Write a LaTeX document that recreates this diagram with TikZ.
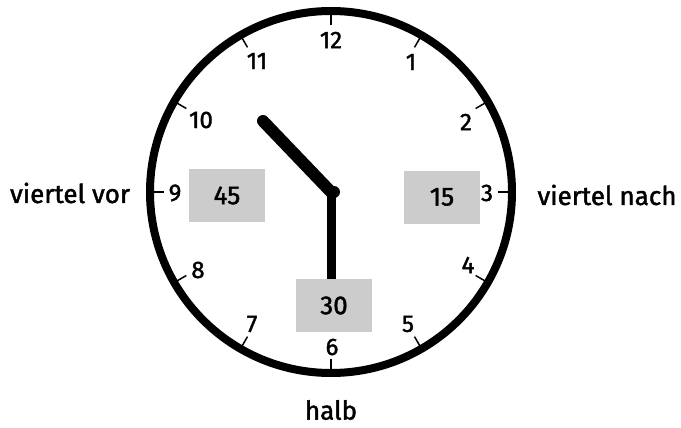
\documentclass[tikz,border=0pt]{standalone}
\usepackage{fontspec}
\setmainfont{Fira Sans}[FakeBold=1.6]
\begin{document}
\begin{tikzpicture}[x=1pt,y=-1pt,
  num/.style={font=\fontsize{24}{26}\selectfont, inner sep=0pt},
  minbox/.style={fill=black!20, minimum width=76pt, minimum height=53pt, inner sep=0pt, font=\fontsize{26}{28}\selectfont},
  lbl/.style={font=\fontsize{26}{28}\selectfont, inner sep=0pt},
  tick/.style={line width=1.5pt}]
\useasboundingbox (0,0) rectangle (681,428);
\coordinate (c) at (331,192);
\draw[line width=8pt] (c) circle[radius=181];
\begin{scope}[shift={(331,192)}]
\foreach \a in {0,30,...,330} \draw[tick] (\a:180) -- (\a:167);
\end{scope}
\node[num] (h12) at (331,40) {12};
\node[num] (h1) at (411,62) {1};
\node[num] (h2) at (466,122) {2};
\node[num] (h3) at (487,193) {3};
\node[num] (h4) at (468,265) {4};
\node[num] (h5) at (408,324) {5};
\node[num] (h6) at (332,347) {6};
\node[num] (h7) at (252,324) {7};
\node[num] (h8) at (198,270) {8};
\node[num] (h9) at (175,193) {9};
\node[num] (h10) at (201,120) {10};
\node[num] (h11) at (257,61) {11};
\node[minbox] (m45) at (227,195.5) {45};
\node[minbox] (m15) at (442,197) {15};
\node[minbox] (m30) at (334,305.5) {30};
\node[lbl] (vor) at (70,193) {viertel vor};
\node[lbl] (nach) at (607,195) {viertel nach};
\node[lbl] (halb) at (331,410) {halb};
\coordinate (hourtip) at (263,121);
\draw[line width=12pt, line cap=round] (c) -- (hourtip);
\draw[line width=9pt] (331,190) -- (m30.north -| c);
\fill (334,192) circle[radius=6];
\end{tikzpicture}
\end{document}
